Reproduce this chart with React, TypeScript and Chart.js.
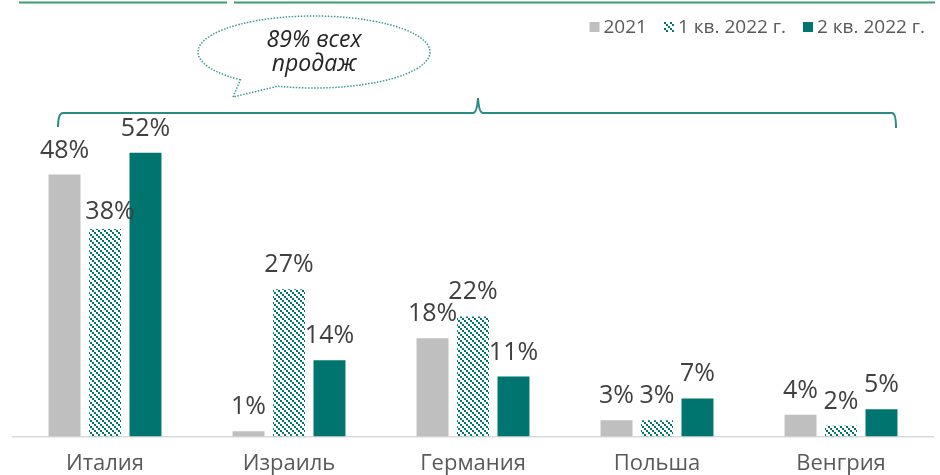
import { useEffect, useRef } from 'react';
import { Chart, registerables } from 'chart.js';

Chart.register(...registerables);

const categories = ['Италия', 'Израиль', 'Германия', 'Польша', 'Венгрия'];
const series2021 = [48, 1, 18, 3, 4];
const seriesQ1 = [38, 27, 22, 3, 2];
const seriesQ2 = [52, 14, 11, 7, 5];
const seriesNames = ['2021', '1 кв. 2022 г.', '2 кв. 2022 г.'];
const calloutLines = ['89% всех', 'продаж'];
const yMax = 60;

const GRAY = '#BFBFBF';
const TEAL = '#00756F';
const FONT = '"Open Sans", "Noto Sans", sans-serif';

function makeHatch(color: string): CanvasPattern | string {
  const c = document.createElement('canvas');
  c.width = 6;
  c.height = 6;
  const g = c.getContext('2d');
  if (!g) return color;
  g.fillStyle = color;
  g.fillRect(0, 0, 2, 2);
  g.fillRect(2, 2, 2, 2);
  g.fillRect(4, 4, 2, 2);
  const p = g.createPattern(c, 'repeat');
  return p || color;
}

export default function App() {
  const ref = useRef<HTMLCanvasElement | null>(null);

  useEffect(() => {
    document.body.style.margin = '0';
    const canvas = ref.current;
    if (!canvas) return;
    const hatch = makeHatch(TEAL);
    const fills: any[] = [GRAY, hatch, TEAL];

    const decor = {
      id: 'decor',
      afterDatasetsDraw(chart: any) {
        const ctx = chart.ctx as CanvasRenderingContext2D;
        ctx.save();
        // value labels
        ctx.font = `25px ${FONT}`;
        ctx.fillStyle = '#404040';
        ctx.textAlign = 'center';
        ctx.textBaseline = 'alphabetic';
        chart.data.datasets.forEach((ds: any, di: number) => {
          const meta = chart.getDatasetMeta(di);
          meta.data.forEach((el: any, i: number) => {
            let dx = 0;
            let dy = 0;
            if (di === 1 && i === 0) { dx = 5; dy = 7; }
            ctx.fillText(`${ds.data[i]}%`, el.x + dx, el.y - 17 + dy);
          });
        });

        // top decorative lines
        ctx.strokeStyle = '#3E9B72';
        ctx.lineWidth = 2;
        ctx.beginPath();
        ctx.moveTo(19, 2.5);
        ctx.lineTo(227, 2.5);
        ctx.moveTo(234, 2.5);
        ctx.lineTo(935, 2.5);
        ctx.stroke();

        // brace spanning all categories
        const xs = chart.scales.x;
        const left = xs.getPixelForValue(0) - 46;
        const right = xs.getPixelForValue(categories.length - 1) + 55;
        const mid = (left + right) / 2 + 0.5;
        const yb = 113;
        ctx.strokeStyle = '#2A8A85';
        ctx.lineWidth = 2;
        ctx.beginPath();
        ctx.moveTo(left - 1, 127);
        ctx.quadraticCurveTo(left - 1, yb, left + 4, yb);
        ctx.lineTo(mid - 5, yb);
        ctx.quadraticCurveTo(mid - 1, yb, mid, 98);
        ctx.quadraticCurveTo(mid + 1, yb, mid + 5, yb);
        ctx.lineTo(right - 4, yb);
        ctx.quadraticCurveTo(right, yb, right, 128);
        ctx.stroke();

        // callout bubble
        const cx = 314, cy = 52, rx = 116, ry = 36;
        ctx.strokeStyle = '#3A9A98';
        ctx.lineWidth = 1.5;
        ctx.setLineDash([1.5, 1.5]);
        const a1 = Math.atan2((80 - cy) / ry, (240 - cx) / rx);
        const a2 = Math.atan2((86 - cy) / ry, (278 - cx) / rx);
        ctx.beginPath();
        ctx.ellipse(cx, cy, rx, ry, 0, a1, a2 + Math.PI * 2, false);
        ctx.lineTo(233, 97);
        ctx.closePath();
        ctx.stroke();
        ctx.setLineDash([]);

        ctx.fillStyle = '#262626';
        ctx.font = `italic 23px ${FONT}`;
        ctx.textAlign = 'center';
        ctx.fillText(calloutLines[0], cx, 47);
        ctx.fillText(calloutLines[1], cx, 71);

        // legend
        ctx.font = `19px ${FONT}`;
        ctx.textBaseline = 'middle';
        ctx.textAlign = 'left';
        let x = 925;
        const positions: number[] = [];
        for (let i = seriesNames.length - 1; i >= 0; i--) {
          const w = ctx.measureText(seriesNames[i]).width;
          x -= w;
          positions[i] = x;
          x -= 15 + (i > 0 ? 16 : 0);
        }
        seriesNames.forEach((name, i) => {
          const tx = positions[i];
          ctx.fillStyle = fills[i];
          ctx.fillRect(tx - 14, 22, 10, 10);
          ctx.fillStyle = '#595959';
          ctx.fillText(name, tx, 28);
        });
        ctx.restore();
      },
    };

    const chart = new Chart(canvas, {
      type: 'bar',
      data: {
        labels: categories,
        datasets: [
          { label: seriesNames[0], data: series2021, backgroundColor: GRAY },
          { label: seriesNames[1], data: seriesQ1, backgroundColor: hatch as any },
          { label: seriesNames[2], data: seriesQ2, backgroundColor: TEAL },
        ],
      },
      options: {
        animation: false,
        responsive: false,
        maintainAspectRatio: false,
        layout: { padding: { left: 13, right: 7, top: 109, bottom: -16 } },
        datasets: { bar: { categoryPercentage: 0.66, barPercentage: 0.79 } },
        plugins: { legend: { display: false }, tooltip: { enabled: false } },
        scales: {
          x: {
            grid: { display: false, drawTicks: false },
            border: { display: true, color: '#D9D9D9', width: 1.5 },
            ticks: { color: '#595959', font: { family: FONT, size: 22 }, padding: 14 },
          },
          y: { display: false, min: 0, max: yMax },
        },
      },
      plugins: [decor],
    });
    return () => chart.destroy();
  }, []);

  return <canvas ref={ref} width={940} height={475} style={{ display: 'block' }} />;
}
